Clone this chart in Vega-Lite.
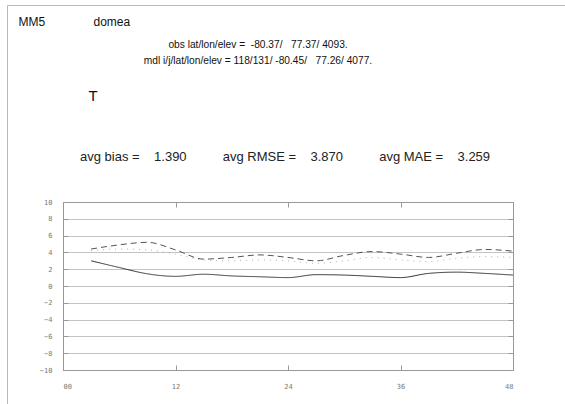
{
  "$schema": "https://vega.github.io/schema/vega-lite/v6.json",
  "autosize": "none",
  "width": 558,
  "height": 399,
  "padding": {"left": 7, "top": 5, "right": 0, "bottom": 0},
  "background": "white",
  "title": {
    "text": "avg bias =\u00a0\u00a0\u00a0\u00a01.390\u00a0\u00a0\u00a0\u00a0\u00a0\u00a0\u00a0\u00a0\u00a0\u00a0avg RMSE =\u00a0\u00a0\u00a0\u00a03.870\u00a0\u00a0\u00a0\u00a0\u00a0\u00a0\u00a0\u00a0\u00a0\u00a0avg MAE =\u00a0\u00a0\u00a0\u00a03.259",
    "anchor": "start",
    "frame": "group",
    "orient": "top",
    "offset": 0,
    "dx": 73,
    "dy": 169,
    "baseline": "alphabetic",
    "font": "Liberation Sans",
    "fontSize": 13,
    "fontWeight": "normal",
    "color": "#222"
  },
  "data": {
    "values": [
      {"h": 3, "stat": "bias", "v": 3.0}, {"h": 6, "stat": "bias", "v": 2.2}, {"h": 9, "stat": "bias", "v": 1.45}, {"h": 12, "stat": "bias", "v": 1.15},
      {"h": 15, "stat": "bias", "v": 1.4}, {"h": 18, "stat": "bias", "v": 1.2}, {"h": 21, "stat": "bias", "v": 1.1}, {"h": 24, "stat": "bias", "v": 1.0},
      {"h": 27, "stat": "bias", "v": 1.35}, {"h": 30, "stat": "bias", "v": 1.3}, {"h": 33, "stat": "bias", "v": 1.15}, {"h": 36, "stat": "bias", "v": 1.0},
      {"h": 39, "stat": "bias", "v": 1.5}, {"h": 42, "stat": "bias", "v": 1.65}, {"h": 45, "stat": "bias", "v": 1.5}, {"h": 48, "stat": "bias", "v": 1.3},
      {"h": 3, "stat": "rmse", "v": 4.4}, {"h": 6, "stat": "rmse", "v": 4.9}, {"h": 9, "stat": "rmse", "v": 5.2}, {"h": 12, "stat": "rmse", "v": 4.3},
      {"h": 15, "stat": "rmse", "v": 3.2}, {"h": 18, "stat": "rmse", "v": 3.4}, {"h": 21, "stat": "rmse", "v": 3.7}, {"h": 24, "stat": "rmse", "v": 3.4},
      {"h": 27, "stat": "rmse", "v": 3.0}, {"h": 30, "stat": "rmse", "v": 3.65}, {"h": 33, "stat": "rmse", "v": 4.1}, {"h": 36, "stat": "rmse", "v": 3.8},
      {"h": 39, "stat": "rmse", "v": 3.4}, {"h": 42, "stat": "rmse", "v": 3.9}, {"h": 45, "stat": "rmse", "v": 4.35}, {"h": 48, "stat": "rmse", "v": 4.15},
      {"h": 3, "stat": "mae", "v": 4.2}, {"h": 6, "stat": "mae", "v": 4.4}, {"h": 9, "stat": "mae", "v": 4.3}, {"h": 12, "stat": "mae", "v": 3.8},
      {"h": 15, "stat": "mae", "v": 3.1}, {"h": 18, "stat": "mae", "v": 3.0}, {"h": 21, "stat": "mae", "v": 3.1}, {"h": 24, "stat": "mae", "v": 3.0},
      {"h": 27, "stat": "mae", "v": 2.7}, {"h": 30, "stat": "mae", "v": 3.0}, {"h": 33, "stat": "mae", "v": 3.4}, {"h": 36, "stat": "mae", "v": 3.1},
      {"h": 39, "stat": "mae", "v": 2.9}, {"h": 42, "stat": "mae", "v": 3.3}, {"h": 45, "stat": "mae", "v": 3.5}, {"h": 48, "stat": "mae", "v": 3.4}
    ]
  },
  "layer": [
    {
      "transform": [{"filter": "datum.stat !== 'mae'"}],
      "mark": {"type": "line", "strokeWidth": 1, "interpolate": "monotone"},
      "encoding": {
        "x": {
          "field": "h", "type": "quantitative",
          "scale": {"domain": [0, 48], "range": [56, 506], "nice": false, "zero": false},
          "axis": {
            "orient": "bottom", "offset": -34,
            "values": [0, 12, 24, 36, 48], "format": "02d",
            "grid": false, "domain": true, "domainColor": "#999", "domainWidth": 1,
            "ticks": true, "tickSize": -5, "tickColor": "#999",
            "labelFont": "DejaVu Sans Mono", "labelFontSize": 7, "labelColor": "#777", "labelPadding": 17,
            "title": "T", "titleX": 81, "titleY": -270, "titleAngle": 0,
            "titleAlign": "left", "titleBaseline": "alphabetic",
            "titleFont": "Liberation Sans", "titleFontSize": 15, "titleFontWeight": "normal", "titleColor": "#111"
          }
        },
        "y": {
          "field": "v", "type": "quantitative",
          "scale": {"domain": [-10, 10], "range": [365, 197], "nice": false, "zero": false},
          "axis": {
            "orient": "left", "offset": -56,
            "values": [-10, -8, -6, -4, -2, 0, 2, 4, 6, 8, 10],
            "grid": true, "gridColor": "#c4c4c4", "gridWidth": 1,
            "domain": true, "domainColor": "#999",
            "ticks": true, "tickSize": -5, "tickColor": "#999",
            "labelFont": "DejaVu Sans Mono", "labelFontSize": 7, "labelColor": "#777", "labelPadding": 16,
            "title": "MM5", "titleX": -45, "titleY": 20, "titleAngle": 0,
            "titleAlign": "left", "titleBaseline": "alphabetic",
            "titleFont": "Liberation Sans", "titleFontSize": 12, "titleFontWeight": "normal", "titleColor": "#111"
          }
        },
        "color": {"field": "stat", "type": "nominal", "scale": {"domain": ["bias", "rmse", "mae"], "range": ["#333333", "#555555", "#b0b0b0"]}, "legend": null},
        "strokeDash": {"field": "stat", "type": "nominal", "scale": {"domain": ["bias", "rmse", "mae"], "range": [[1, 0], [6, 4], [1, 5]]}, "legend": null}
      }
    },
    {
      "transform": [{"filter": "datum.stat === 'mae'"}],
      "mark": {"type": "line", "strokeWidth": 1, "interpolate": "monotone"},
      "encoding": {
        "x": {
          "field": "h", "type": "quantitative",
          "axis": {
            "orient": "top", "offset": -197,
            "values": [0, 12, 24, 36, 48], "labels": false,
            "grid": false, "domain": true, "domainColor": "#999",
            "ticks": true, "tickSize": -5, "tickColor": "#999",
            "title": ["obs lat/lon/elev =\u00a0\u00a0-80.37/\u00a0\u00a0\u00a077.37/ 4093.", "mdl i/j/lat/lon/elev = 118/131/ -80.45/\u00a0\u00a0\u00a077.26/ 4077."],
            "titleX": 250.5, "titleY": -155, "titleAngle": 0,
            "titleAlign": "center", "titleBaseline": "alphabetic", "titleLineHeight": 16,
            "titleFont": "Liberation Sans", "titleFontSize": 10.2, "titleFontWeight": "normal", "titleColor": "#111"
          }
        },
        "y": {
          "field": "v", "type": "quantitative",
          "axis": {
            "orient": "right", "offset": -52,
            "values": [-10, -8, -6, -4, -2, 0, 2, 4, 6, 8, 10], "labels": false,
            "grid": false, "domain": true, "domainColor": "#999",
            "ticks": true, "tickSize": -5, "tickColor": "#999",
            "title": "domea", "titleX": -420, "titleY": 20, "titleAngle": 0,
            "titleAlign": "left", "titleBaseline": "alphabetic",
            "titleFont": "Liberation Sans", "titleFontSize": 12, "titleFontWeight": "normal", "titleColor": "#111"
          }
        },
        "color": {"field": "stat", "type": "nominal", "scale": {"domain": ["bias", "rmse", "mae"], "range": ["#333333", "#555555", "#b0b0b0"]}, "legend": null},
        "strokeDash": {"field": "stat", "type": "nominal", "scale": {"domain": ["bias", "rmse", "mae"], "range": [[1, 0], [6, 4], [1, 5]]}, "legend": null}
      }
    }
  ],
  "resolve": {"axis": {"x": "independent", "y": "independent"}},
  "config": {
    "view": {"stroke": "#b8b8b8", "strokeWidth": 1, "strokeDash": [558, 957, 399]}
  }
}
